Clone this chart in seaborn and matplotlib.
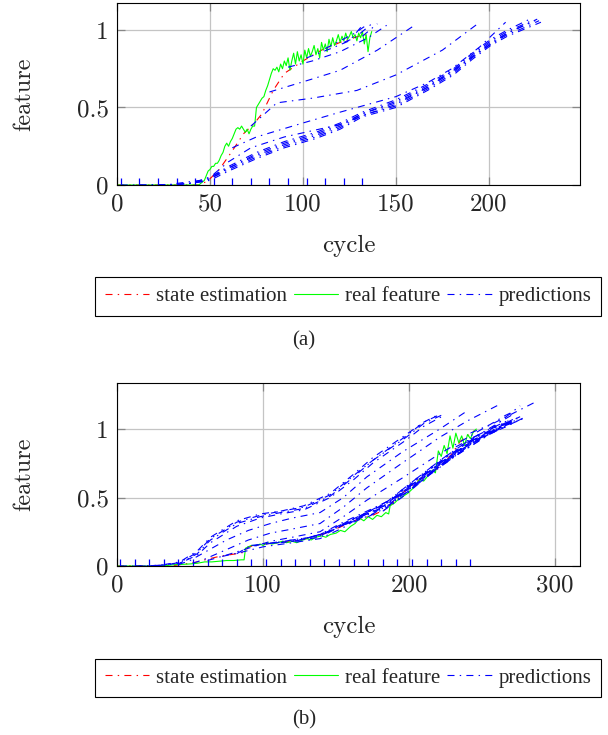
import matplotlib
matplotlib.use('Agg')
import matplotlib.pyplot as plt
from matplotlib.lines import Line2D
import seaborn as sns
import pandas as pd

sns.set_style('ticks')
plt.rcParams['font.family'] = 'cmr10'
plt.rcParams['axes.formatter.use_mathtext'] = True
plt.rcParams['lines.dashdot_pattern'] = [6.3, 4.7, 1.3, 4.7]

# ---------------- panel (a) ----------------
a_real_x = [0, 44, 45, 47, 48, 49, 50, 51, 52, 53, 54, 55, 56, 57, 58, 59, 60, 61, 62, 63, 64, 65, 66, 67,
            68, 69, 70, 71, 72, 73, 74, 75, 76, 77, 78, 79, 80, 81, 82, 83, 84, 85, 86, 87, 88, 89, 90,
            91, 92, 93, 94, 95, 96, 97, 98, 99, 100, 101, 102, 103, 104, 105, 106, 107, 108, 109, 110,
            111, 112, 113, 114, 115, 116, 117, 118, 119, 120, 121, 122, 123, 124, 125, 126, 127, 128,
            129, 130, 131, 132, 133, 134, 135, 136, 137]
a_real_y = [0, 0, 0.01, 0.03, 0.06, 0.09, 0.10, 0.12, 0.12, 0.14, 0.14, 0.16, 0.19, 0.21, 0.25, 0.27, 0.25,
            0.28, 0.30, 0.33, 0.36, 0.37, 0.36, 0.38, 0.36, 0.34, 0.36, 0.33, 0.36, 0.38, 0.38, 0.50, 0.52,
            0.54, 0.56, 0.57, 0.61, 0.64, 0.68, 0.72, 0.75, 0.74, 0.76, 0.73, 0.78, 0.75, 0.80, 0.77, 0.82,
            0.74, 0.80, 0.85, 0.78, 0.86, 0.80, 0.84, 0.78, 0.87, 0.82, 0.88, 0.83, 0.86, 0.90, 0.84, 0.88,
            0.82, 0.92, 0.87, 0.91, 0.86, 0.94, 0.89, 0.95, 0.90, 0.93, 0.97, 0.92, 0.96, 0.93, 0.98, 0.94,
            0.96, 0.99, 0.95, 0.97, 0.93, 0.98, 0.95, 0.99, 0.91, 0.97, 0.86, 0.95, 0.99]
a_est_x = [0, 45, 50, 55, 62, 68, 74, 78, 84, 90, 100, 110, 120, 130, 135]
a_est_y = [0, 0, 0.04, 0.10, 0.22, 0.33, 0.40, 0.46, 0.61, 0.72, 0.80, 0.87, 0.92, 0.96, 0.97]
a_starts = [2, 12, 22, 32, 42, 52, 62, 72, 82, 92, 102, 112, 122, 132]
a_pred = [
    [(2, 0), (30, 0), (45, 0.02), (50, 0.04), (60, 0.10), (75, 0.18), (90, 0.25), (107, 0.31), (120, 0.37),
     (132, 0.45), (150, 0.51), (167, 0.62), (181, 0.72), (191, 0.82), (201, 0.91), (210, 0.97), (220, 1.02), (227, 1.06)],
    [(12, 0), (35, 0.005), (45, 0.02), (50, 0.03), (60, 0.09), (75, 0.17), (90, 0.24), (107, 0.30), (120, 0.36),
     (132, 0.44), (150, 0.50), (167, 0.61), (181, 0.71), (191, 0.81), (201, 0.90), (210, 0.96), (220, 1.01), (228, 1.05)],
    [(22, 0), (40, 0.01), (50, 0.04), (60, 0.11), (75, 0.19), (90, 0.26), (107, 0.32), (120, 0.38), (132, 0.46),
     (150, 0.53), (167, 0.63), (181, 0.73), (191, 0.83), (201, 0.92), (210, 0.98), (225, 1.06)],
    [(32, 0.01), (45, 0.03), (50, 0.05), (60, 0.11), (75, 0.20), (90, 0.27), (107, 0.33), (120, 0.39), (132, 0.46),
     (150, 0.54), (167, 0.64), (181, 0.74), (191, 0.84), (201, 0.93), (210, 0.99), (223, 1.06)],
    [(42, 0.02), (50, 0.05), (60, 0.12), (75, 0.21), (90, 0.28), (107, 0.34), (120, 0.40), (132, 0.47), (150, 0.55),
     (167, 0.65), (181, 0.75), (191, 0.85), (201, 0.94), (210, 1.0), (222, 1.07)],
    [(52, 0.07), (60, 0.15), (72, 0.24), (90, 0.31), (105, 0.35), (120, 0.39), (135, 0.46), (150, 0.52), (167, 0.63),
     (181, 0.74), (195, 0.86), (210, 0.98), (226, 1.07)],
    [(62, 0.24), (75, 0.31), (100, 0.40), (120, 0.47), (150, 0.57), (167, 0.66), (180, 0.75), (195, 0.89), (209, 1.05)],
    [(72, 0.38), (86, 0.53), (105, 0.56), (129, 0.61), (150, 0.71), (175, 0.87), (194, 1.04)],
    [(82, 0.60), (104, 0.68), (120, 0.74), (140, 0.87), (160, 1.03)],
    [(92, 0.76), (105, 0.80), (120, 0.86), (135, 0.95), (145, 1.03)],
    [(102, 0.82), (115, 0.88), (125, 0.93), (132, 1.03)],
    [(112, 0.88), (120, 0.93), (128, 0.98), (134, 1.03)],
    [(122, 0.92), (128, 0.95), (133, 1.0), (137, 1.04)],
    [(132, 0.96), (136, 1.0), (140, 1.04)],
]

# ---------------- panel (b) ----------------
b_real_x = [0, 20, 35, 40, 45, 50, 55, 60, 65, 70, 75, 80, 85, 87, 88, 90, 92, 95, 98, 100, 103, 106, 110,
            113, 116, 120, 123, 127, 130, 133, 136, 140, 143, 146, 150, 153, 156, 160, 163, 166, 169, 172,
            175, 178, 181, 184, 186, 187, 190, 193, 196, 199, 202, 205, 207, 210, 213, 216, 218, 220, 222,
            224, 226, 228, 230, 232, 234, 236, 238, 240, 242, 244, 246]
b_real_y = [0, 0, 0.005, 0.01, 0.012, 0.015, 0.02, 0.03, 0.03, 0.035, 0.04, 0.04, 0.045, 0.045, 0.13, 0.14,
            0.15, 0.15, 0.16, 0.15, 0.17, 0.16, 0.17, 0.18, 0.17, 0.18, 0.17, 0.19, 0.20, 0.19, 0.21, 0.22,
            0.21, 0.23, 0.24, 0.26, 0.25, 0.29, 0.31, 0.35, 0.33, 0.36, 0.34, 0.37, 0.36, 0.39, 0.38, 0.44,
            0.46, 0.49, 0.51, 0.53, 0.56, 0.60, 0.63, 0.62, 0.66, 0.70, 0.68, 0.84, 0.80, 0.88, 0.82, 0.95,
            0.86, 0.97, 0.90, 0.95, 0.88, 0.96, 0.93, 0.98, 1.0]
b_est_x = [0, 40, 50, 55, 62, 70, 82, 87, 90, 100, 110, 120, 130, 143, 154, 165, 175, 185, 194, 207, 218,
           228, 235, 245]
b_est_y = [0, 0.005, 0.02, 0.03, 0.05, 0.07, 0.09, 0.10, 0.14, 0.16, 0.17, 0.18, 0.20, 0.24, 0.29, 0.34,
           0.37, 0.42, 0.52, 0.63, 0.70, 0.80, 0.91, 0.99]
b_starts = [2, 12, 22, 32, 42, 52, 62, 72, 82, 92, 102, 112, 122, 132, 142, 152, 162, 172, 182, 192, 202,
            212, 222, 232, 242]
b_pred = [
    [(2, 0), (20, 0), (30, 0.005), (43, 0.02), (55, 0.09), (64, 0.19), (82, 0.31), (98, 0.36), (112, 0.39),
     (128, 0.42), (146, 0.51), (162, 0.65), (175, 0.77), (198, 0.94), (210, 1.04), (222, 1.10)],
    [(12, 0), (30, 0.005), (43, 0.025), (55, 0.10), (64, 0.20), (82, 0.32), (98, 0.37), (112, 0.40), (128, 0.43),
     (146, 0.52), (162, 0.66), (175, 0.77), (198, 0.95), (210, 1.05), (220, 1.10)],
    [(22, 0), (32, 0.01), (43, 0.02), (55, 0.08), (64, 0.17), (82, 0.29), (98, 0.35), (112, 0.38), (128, 0.41),
     (146, 0.50), (162, 0.63), (175, 0.75), (198, 0.92), (210, 1.02), (224, 1.10)],
    [(32, 0.01), (43, 0.03), (55, 0.11), (64, 0.21), (82, 0.33), (98, 0.38), (112, 0.40), (128, 0.44), (146, 0.53),
     (162, 0.67), (175, 0.79), (198, 0.96), (210, 1.05), (219, 1.10)],
    [(42, 0.01), (50, 0.04), (60, 0.10), (75, 0.19), (90, 0.26), (105, 0.31), (120, 0.35), (139, 0.39), (155, 0.50),
     (171, 0.65), (195, 0.83), (221, 1.0), (238, 1.12)],
    [(52, 0.02), (60, 0.05), (75, 0.12), (90, 0.19), (105, 0.24), (120, 0.27), (139, 0.31), (155, 0.43), (171, 0.57),
     (195, 0.75), (221, 0.94), (240, 1.06), (262, 1.18)],
    [(62, 0.04), (75, 0.08), (90, 0.13), (105, 0.18), (120, 0.21), (139, 0.25), (155, 0.36), (171, 0.48), (195, 0.64),
     (221, 0.82), (250, 1.0), (287, 1.20)],
    [(72, 0.07), (85, 0.10), (100, 0.14), (120, 0.17), (139, 0.20), (155, 0.28), (171, 0.39), (195, 0.53), (221, 0.72),
     (250, 0.95), (276, 1.17)],
    [(82, 0.09), (90, 0.14), (100, 0.16), (120, 0.18), (139, 0.21), (153, 0.29), (171, 0.38), (185, 0.45), (198, 0.56),
     (221, 0.75), (244, 0.92), (267, 1.03), (277, 1.07)],
    [(92, 0.15), (100, 0.16), (120, 0.19), (139, 0.22), (153, 0.30), (171, 0.39), (185, 0.46), (198, 0.57), (221, 0.76),
     (244, 0.93), (267, 1.04), (275, 1.07)],
    [(102, 0.16), (120, 0.19), (139, 0.22), (153, 0.29), (171, 0.37), (185, 0.44), (198, 0.55), (221, 0.74), (244, 0.91),
     (267, 1.02), (278, 1.08)],
    [(112, 0.17), (125, 0.19), (139, 0.23), (153, 0.30), (171, 0.39), (185, 0.47), (198, 0.58), (221, 0.77), (244, 0.94),
     (265, 1.05), (270, 1.07)],
    [(122, 0.18), (139, 0.23), (153, 0.31), (171, 0.40), (185, 0.47), (198, 0.58), (221, 0.77), (244, 0.94), (268, 1.06)],
    [(132, 0.21), (145, 0.25), (160, 0.32), (171, 0.38), (185, 0.45), (198, 0.56), (221, 0.75), (244, 0.92), (266, 1.03),
     (273, 1.06)],
    [(142, 0.24), (155, 0.30), (171, 0.39), (185, 0.46), (198, 0.57), (221, 0.76), (244, 0.93), (265, 1.04), (271, 1.07)],
    [(152, 0.29), (165, 0.35), (180, 0.42), (198, 0.56), (221, 0.75), (244, 0.92), (266, 1.04), (276, 1.09)],
    [(162, 0.32), (175, 0.38), (190, 0.47), (205, 0.59), (221, 0.73), (244, 0.91), (268, 1.04)],
    [(172, 0.36), (185, 0.43), (198, 0.54), (221, 0.74), (244, 0.91), (266, 1.02), (279, 1.08)],
    [(182, 0.40), (195, 0.50), (210, 0.63), (225, 0.77), (244, 0.92), (266, 1.03), (274, 1.07)],
    [(192, 0.50), (205, 0.60), (221, 0.73), (244, 0.90), (266, 1.02), (270, 1.05)],
    [(202, 0.57), (221, 0.72), (244, 0.90), (265, 1.03), (272, 1.07)],
    [(212, 0.66), (230, 0.79), (250, 0.93), (270, 1.06), (274, 1.08)],
    [(222, 0.74), (240, 0.86), (258, 0.98), (272, 1.08)],
    [(232, 0.87), (248, 0.96), (262, 1.05), (270, 1.10)],
    [(242, 0.97), (255, 1.03), (266, 1.10), (272, 1.13)],
]

serif = 'Liberation Serif'


def draw_panel(ax, est_x, est_y, real_x, real_y, starts, preds, xlim, ylim, xticks, mark_h):
    sns.lineplot(x=est_x, y=est_y, ax=ax, color='red', lw=0.8, linestyle='-.', estimator=None)
    sns.lineplot(x=real_x, y=real_y, ax=ax, color='lime', lw=0.8, estimator=None)

    rows = []
    for i, pts in enumerate(preds):
        for x, y in pts:
            rows.append((i, x, y))
    df = pd.DataFrame(rows, columns=['run', 'cycle', 'feature'])
    sns.lineplot(data=df, x='cycle', y='feature', units='run', estimator=None, sort=False,
                 ax=ax, color='blue', lw=0.8, linestyle='-.')
    ax.vlines(starts, 0, mark_h, colors='blue', lw=0.9)

    ax.set_xlim(*xlim)
    ax.set_ylim(*ylim)
    ax.set_xticks(xticks)
    ax.set_xticklabels([str(t) for t in xticks])
    ax.set_yticks([0, 0.5, 1])
    ax.set_yticklabels(['0', '0.5', '1'])
    ax.grid(True, color='#c4c4c4', lw=0.9)
    ax.set_axisbelow(True)
    ax.tick_params(direction='in', top=True, right=True, length=6, width=0.9, color='#888888',
                   labelsize=18, pad=6)
    for s in ax.spines.values():
        s.set_color('black')
        s.set_linewidth(0.8)

    ax.set_xlabel('cycle', fontsize=18)
    ax.set_ylabel('feature', fontsize=17.5)
    ax.xaxis.set_label_coords(0.5, -0.335)
    ax.xaxis.label.set_va('center')
    ax.yaxis.set_label_coords(-0.2009, 0.5)
    ax.yaxis.label.set_va('center')

    handles = [Line2D([], [], color='red', lw=0.8, linestyle='-.'),
               Line2D([], [], color='lime', lw=0.8),
               Line2D([], [], color='blue', lw=0.8, linestyle='-.')]
    leg = ax.legend(handles, ['state estimation', 'real feature', 'predictions'], ncol=3,
                    loc='center', bbox_to_anchor=(0.499, -0.612), frameon=True, fancybox=False,
                    edgecolor='black', prop={'family': serif, 'size': 15}, handlelength=2.13,
                    handletextpad=0.33, columnspacing=0.33, borderpad=0.45)
    leg.get_frame().set_linewidth(0.8)
    leg.get_frame().set_alpha(1)


fig = plt.figure(figsize=(6.08, 7.35), dpi=100)
ax_a = fig.add_axes([117 / 608, (735 - 185) / 735, 463 / 608, 182 / 735])
ax_b = fig.add_axes([117 / 608, (735 - 566) / 735, 463 / 608, 183 / 735])

draw_panel(ax_a, a_est_x, a_est_y, a_real_x, a_real_y, a_starts, a_pred,
           (0, 249), (0, 1.174), [0, 50, 100, 150, 200], 0.047)
draw_panel(ax_b, b_est_x, b_est_y, b_real_x, b_real_y, b_starts, b_pred,
           (0, 317), (0, 1.336), [0, 100, 200, 300], 0.053)

fig.text(304 / 608, 1 - 341 / 735, '(a)', ha='center', va='center', family=serif, fontsize=15)
fig.text(304 / 608, 1 - 720 / 735, '(b)', ha='center', va='center', family=serif, fontsize=15)

fig.savefig('out.png', dpi=100)
